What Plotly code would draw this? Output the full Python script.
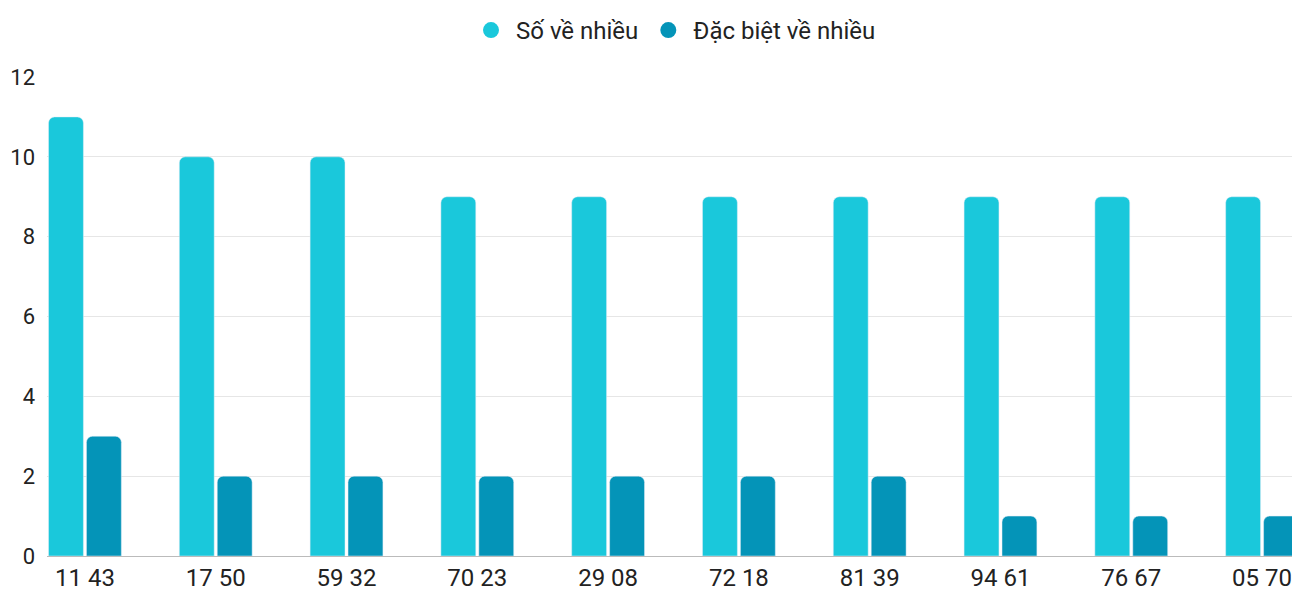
import plotly.graph_objects as go

categories = ["11 43", "17 50", "59 32", "70 23", "29 08", "72 18", "81 39", "94 61", "76 67", "05 70"]
so_ve_nhieu = [11, 10, 10, 9, 9, 9, 9, 9, 9, 9]
dac_biet = [3, 2, 2, 2, 2, 2, 2, 1, 1, 1]
c1, c2 = "#1ac8db", "#0494b8"

fig = go.Figure()
fig.add_bar(x=categories, y=so_ve_nhieu, marker_color=c1, showlegend=False)
fig.add_bar(x=categories, y=dac_biet, marker_color=c2, showlegend=False)
fig.add_scatter(x=[None], y=[None], mode="markers", name="Số về nhiều",
                marker=dict(color=c1, size=28, symbol="circle"))
fig.add_scatter(x=[None], y=[None], mode="markers", name="Đặc biệt về nhiều",
                marker=dict(color=c2, size=28, symbol="circle"))
fig.update_layout(
    width=1292, height=584, barmode="group", bargap=0.42, bargroupgap=0.08,
    barcornerradius=6, plot_bgcolor="white", paper_bgcolor="white",
    margin=dict(l=39, r=0, t=69, b=26),
    font=dict(family="Roboto", size=22, color="#222"),
    legend=dict(orientation="h", x=0.5, xanchor="center", y=1.0, yanchor="top",
                yref="container", font=dict(size=24), itemwidth=40),
    xaxis=dict(type="category", range=[-0.29, 9.29], showgrid=False,
               showline=True, linecolor="#bbb", ticks="", tickfont=dict(size=24)),
    yaxis=dict(range=[0, 12], dtick=2, gridcolor="#e6e6e6", zeroline=False,
               ticksuffix="  "),
)
fig.write_html("out.html")
